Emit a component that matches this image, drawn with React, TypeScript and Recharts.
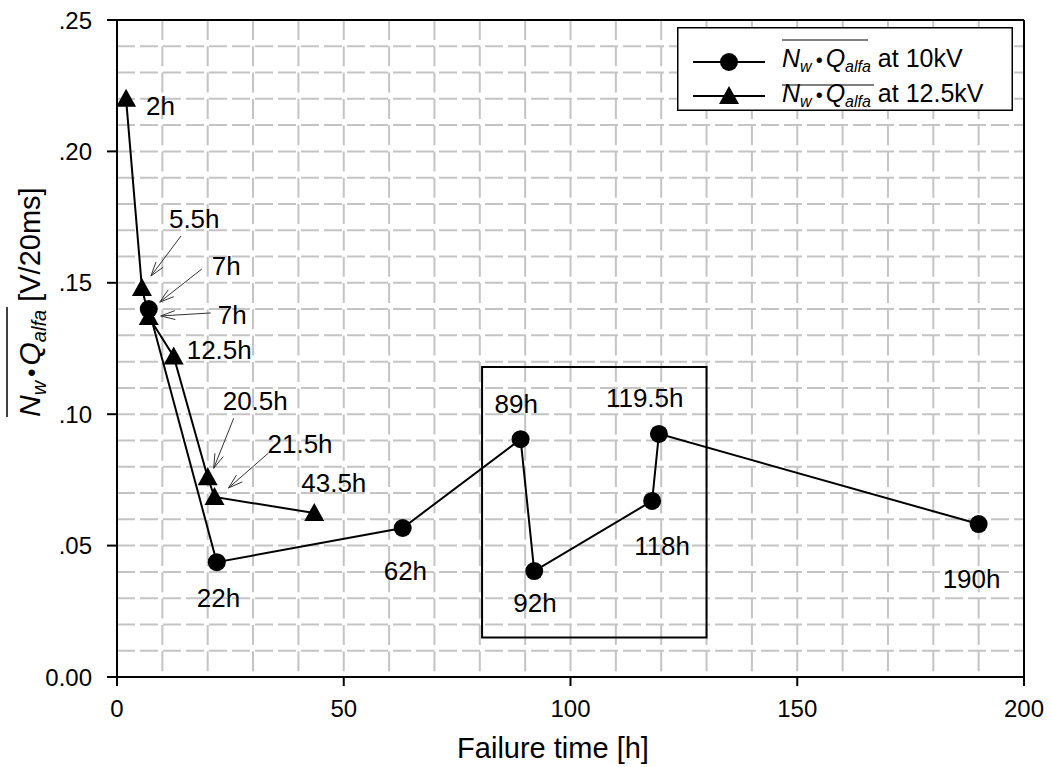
import React from 'react';
import {
  LineChart,
  Line,
  XAxis,
  YAxis,
  CartesianGrid,
  ReferenceArea,
  ReferenceLine,
  LabelList,
  Legend,
} from 'recharts';

// 10 kV series (circles)
const hours10 = [7, 22, 63, 89, 92, 118, 119.5, 190];
const values10 = [0.14, 0.0437, 0.0567, 0.0905, 0.0403, 0.067, 0.0925, 0.0582];
const labels10 = ['7h', '22h', '62h', '89h', '92h', '118h', '119.5h', '190h'];

// 12.5 kV series (triangles)
const hours125 = [2, 5.5, 7, 12.5, 20, 21.5, 43.5];
const values125 = [0.22, 0.148, 0.137, 0.122, 0.076, 0.0685, 0.0624];
const labels125 = ['2h', '5.5h', '7h', '12.5h', '20.5h', '21.5h', '43.5h'];

const xTicks = [0, 50, 100, 150, 200];
const yTicks = [0, 0.05, 0.1, 0.15, 0.2, 0.25];
const xGrid = [10, 20, 30, 40, 50, 60, 70, 80, 90, 100, 110, 120, 130, 140, 150, 160, 170, 180, 190];
const yGrid = [
  0.01, 0.02, 0.03, 0.04, 0.05, 0.06, 0.07, 0.08, 0.09, 0.1, 0.11, 0.12,
  0.13, 0.14, 0.15, 0.16, 0.17, 0.18, 0.19, 0.2, 0.21, 0.22, 0.23, 0.24,
];

// highlighted region (hours / value)
const boxHours = [80.5, 130];
const boxValues = [0.015, 0.118];

// label placement in pixels relative to each point; arrow = [x1, y1, x2, y2]
type LabelPos = { dx: number; dy: number; arrow?: number[] };
const labelPos10: LabelPos[] = [
  { dx: 63, dy: -34, arrow: [53, -40, 11, -7] },
  { dx: -20, dy: 45 },
  { dx: -19, dy: 52 },
  { dx: -26, dy: -26 },
  { dx: -21, dy: 41 },
  { dx: -18, dy: 54 },
  { dx: -53, dy: -27 },
  { dx: -36, dy: 64 },
];
const labelPos125: LabelPos[] = [
  { dx: 20, dy: 16 },
  { dx: 27, dy: -60, arrow: [39, -52, 9, -12] },
  { dx: 69, dy: 7, arrow: [62, -4, 12, -1] },
  { dx: 13, dy: 3 },
  { dx: 15, dy: -67, arrow: [26, -59, 6, -9] },
  { dx: 53, dy: -44, arrow: [54, -44, 14, -9] },
  { dx: -13, dy: -21 },
];

const data10 = hours10.map((t, i) => ({ t, v: values10[i], label: labels10[i] }));
const data125 = hours125.map((t, i) => ({ t, v: values125[i], label: labels125[i] }));

const FONT = '"Liberation Sans", Arial, Helvetica, sans-serif';

const fmtY = (v: number) => (v === 0 ? '0.00' : '.' + Math.round(v * 100).toString().padStart(2, '0'));

const renderCircle = (p: any) => (
  <circle key={`c${p.index}`} cx={p.cx} cy={p.cy} r={9} fill="#000" />
);

const triPoints = (cx: number, cy: number, s = 1) =>
  `${cx},${cy - 10 * s} ${cx + 10 * s},${cy + 8 * s} ${cx - 10 * s},${cy + 8 * s}`;

const renderTriangle = (p: any) => (
  <polygon key={`t${p.index}`} points={triPoints(p.cx, p.cy)} fill="#000" />
);

const Arrow = ({ x1, y1, x2, y2 }: { x1: number; y1: number; x2: number; y2: number }) => {
  const ang = Math.atan2(y1 - y2, x1 - x2);
  const len = 15;
  const spread = 0.3;
  const b1 = [x2 + len * Math.cos(ang + spread), y2 + len * Math.sin(ang + spread)];
  const b2 = [x2 + len * Math.cos(ang - spread), y2 + len * Math.sin(ang - spread)];
  return (
    <g stroke="#333" strokeWidth={1}>
      <line x1={x1} y1={y1} x2={x2} y2={y2} />
      <line x1={b1[0]} y1={b1[1]} x2={x2} y2={y2} />
      <line x1={b2[0]} y1={b2[1]} x2={x2} y2={y2} />
    </g>
  );
};

const makeLabel = (positions: LabelPos[]) => (p: any) => {
  const x = p.x ?? p.viewBox?.x;
  const y = p.y ?? p.viewBox?.y;
  const pos = positions[p.index];
  if (x == null || y == null || !pos) return null;
  return (
    <g key={`l${p.index}`}>
      {pos.arrow && (
        <Arrow x1={x + pos.arrow[0]} y1={y + pos.arrow[1]} x2={x + pos.arrow[2]} y2={y + pos.arrow[3]} />
      )}
      <text x={x + pos.dx} y={y + pos.dy} fontSize={26} fontFamily={FONT} fill="#000">
        {p.value}
      </text>
    </g>
  );
};

// N_w • Q_alfa with overline, as svg tspans
const MathTerm = ({ big, small, shift }: { big: number; small: number; shift: number }) => (
  <>
    <tspan fontStyle="italic" fontSize={big}>N</tspan>
    <tspan fontStyle="italic" fontSize={small} dy={shift}>w</tspan>
    <tspan dy={-shift} dx={4} fontSize={big * 0.8}>•</tspan>
    <tspan fontStyle="italic" fontSize={big} dx={3}>Q</tspan>
    <tspan fontStyle="italic" fontSize={small} dy={shift}>alfa</tspan>
    <tspan dy={-shift}> </tspan>
  </>
);

const LegendBox = () => (
  <svg width={336} height={84} style={{ display: 'block' }}>
    <rect x={0.75} y={0.75} width={334.5} height={82.5} fill="#fff" stroke="#000" strokeWidth={1.5} />
    <line x1={16} x2={88} y1={35} y2={35} stroke="#000" strokeWidth={2} />
    <circle cx={52} cy={35} r={9} fill="#000" />
    <line x1={16} x2={88} y1={69} y2={69} stroke="#000" strokeWidth={2} />
    <polygon points={triPoints(52, 69)} fill="#000" />
    <g fontFamily={FONT} fill="#000">
      <text x={105} y={40} fontSize={25}>
        <MathTerm big={25} small={16} shift={5} />
        at 10kV
      </text>
      <line x1={105} x2={191} y1={13} y2={13} stroke="#000" strokeWidth={1.2} />
      <text x={105} y={75} fontSize={25}>
        <MathTerm big={25} small={16} shift={5} />
        at 12.5kV
      </text>
      <line x1={105} x2={197} y1={58} y2={58} stroke="#000" strokeWidth={1.2} />
    </g>
  </svg>
);

const YTitle = () => (
  <g transform="translate(40,417) rotate(-90)" fontFamily={FONT} fill="#000">
    <text x={0} y={0} fontSize={29}>
      <MathTerm big={30} small={20} shift={6} />
      [V/20ms]
    </text>
    <line x1={0} x2={110} y1={-33} y2={-33} stroke="#000" strokeWidth={1.5} />
  </g>
);

const XTitle = () => (
  <text x={553} y={758} textAnchor="middle" fontSize={29} fontFamily={FONT} fill="#000">
    Failure time [h]
  </text>
);

export default function App() {
  return (
    <div style={{ position: 'absolute', left: 0, top: 0, background: '#fff' }}>
      <LineChart width={1051} height={767} margin={{ top: 20, right: 27, left: 0, bottom: 0 }}>
        <CartesianGrid
          vertical={false}
          horizontalValues={yGrid}
          stroke="#c4c4c4"
          strokeWidth={2}
          strokeDasharray="18 5"
        />
        <CartesianGrid
          horizontal={false}
          verticalValues={xGrid}
          stroke="#c4c4c4"
          strokeWidth={2}
          strokeDasharray="20 6.3"
        />
        <XAxis
          type="number"
          dataKey="t"
          domain={[0, 200]}
          ticks={xTicks}
          allowDataOverflow
          height={90}
          tickSize={9}
          tickMargin={14}
          axisLine={{ stroke: '#000', strokeWidth: 2 }}
          tickLine={{ stroke: '#000', strokeWidth: 2 }}
          tick={{ fill: '#000', fontSize: 24, fontFamily: FONT }}
          label={{ content: () => <XTitle /> }}
        />
        <YAxis
          type="number"
          domain={[0, 0.25]}
          ticks={yTicks}
          allowDataOverflow
          width={117}
          tickSize={10}
          tickMargin={15}
          tickFormatter={fmtY}
          axisLine={{ stroke: '#000', strokeWidth: 2 }}
          tickLine={{ stroke: '#000', strokeWidth: 2 }}
          tick={{ fill: '#000', fontSize: 24, fontFamily: FONT }}
          label={{ content: () => <YTitle /> }}
        />
        <ReferenceLine y={0.25} stroke="#000" strokeWidth={2} />
        <ReferenceLine x={200} stroke="#000" strokeWidth={2} />
        <ReferenceArea
          x1={boxHours[0]}
          x2={boxHours[1]}
          y1={boxValues[0]}
          y2={boxValues[1]}
          fill="none"
          stroke="#000"
          strokeWidth={2}
        />
        <Line
          data={data125}
          dataKey="v"
          type="linear"
          stroke="#000"
          strokeWidth={2}
          dot={renderTriangle}
          activeDot={false}
          isAnimationActive={false}
        >
          <LabelList dataKey="label" content={makeLabel(labelPos125)} />
        </Line>
        <Line
          data={data10}
          dataKey="v"
          type="linear"
          stroke="#000"
          strokeWidth={2}
          dot={renderCircle}
          activeDot={false}
          isAnimationActive={false}
        >
          <LabelList dataKey="label" content={makeLabel(labelPos10)} />
        </Line>
        <Legend
          layout="vertical"
          align="center"
          verticalAlign="middle"
          content={() => <LegendBox />}
          wrapperStyle={{ left: 677, top: 27, width: 336, height: 84 }}
        />
      </LineChart>
    </div>
  );
}
